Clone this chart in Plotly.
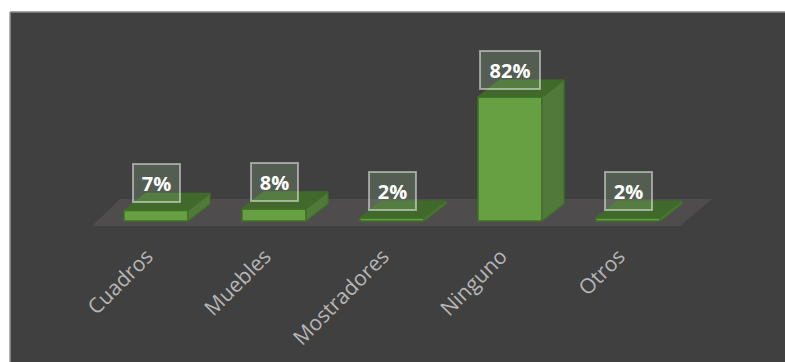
import plotly.graph_objects as go

categories = ["Cuadros", "Muebles", "Mostradores", "Ninguno", "Otros"]
values = [7, 8, 2, 82, 2]
labels = ["7%", "8%", "2%", "82%", "2%"]

# Figure size and plot-area placement, in pixels
WIDTH, HEIGHT = 785, 362
LEFT, TOP = 10, 12
X_ZERO_PX, X_STEP_PX = 156, 118   # centre of the first category, spacing between categories
Y_ZERO_PX, Y_UNIT_PX = 221, 1.512 # baseline, pixels per percentage point

# Pseudo-3D extrusion of each column
BAR_WIDTH = 64 / X_STEP_PX
DEPTH_X = 22 / X_STEP_PX
DEPTH_Y = 17 / Y_UNIT_PX

BACKGROUND = "#404040"
FLOOR = "#4e4c4d"
FRONT = "#66a042"
TOP_FACE = "#41692b"
SIDE_FACE = "#50793a"
EDGE = "#3f6f27"

x_range = [(LEFT - X_ZERO_PX) / X_STEP_PX, (WIDTH - X_ZERO_PX) / X_STEP_PX]
y_range = [(Y_ZERO_PX - HEIGHT) / Y_UNIT_PX, (Y_ZERO_PX - TOP) / Y_UNIT_PX]
positions = list(range(len(categories)))

fig = go.Figure()

fig.add_trace(go.Bar(
    x=positions, y=values, width=BAR_WIDTH,
    marker=dict(color=FRONT, line=dict(color=EDGE, width=1.5)),
    hoverinfo="skip", showlegend=False,
))

# Top and side faces of every column follow from its value
for pos, val in zip(positions, values):
    x0, x1 = pos - BAR_WIDTH / 2, pos + BAR_WIDTH / 2
    fig.add_trace(go.Scatter(
        x=[x1, x1 + DEPTH_X, x1 + DEPTH_X, x1, x1],
        y=[0, DEPTH_Y, val + DEPTH_Y, val, 0],
        mode="lines", fill="toself", fillcolor=SIDE_FACE,
        line=dict(color=EDGE, width=1.2), hoverinfo="skip", showlegend=False,
    ))
    fig.add_trace(go.Scatter(
        x=[x0, x1, x1 + DEPTH_X, x0 + DEPTH_X, x0],
        y=[val, val, val + DEPTH_Y, val + DEPTH_Y, val],
        mode="lines", fill="toself", fillcolor=TOP_FACE,
        line=dict(color=EDGE, width=1.2), hoverinfo="skip", showlegend=False,
    ))

# Boxed value labels sitting over the back edge of each column
annotations = [
    dict(
        x=pos, y=val, text=f"<b>{label}</b>", showarrow=False,
        xref="x", yref="y", xanchor="center", yanchor="middle", yshift=27, xshift=0,
        width=58 if val >= 10 else 45, height=36,
        font=dict(family="Open Sans", size=20, color="white"),
        bgcolor="rgba(150,190,140,0.24)",
        bordercolor="rgba(255,255,255,0.48)", borderwidth=2, borderpad=0,
    )
    for pos, val, label in zip(positions, values, labels)
]

shapes = [
    # Floor plane under the columns
    dict(
        type="path", layer="below", xref="x", yref="y", line=dict(width=0), fillcolor=FLOOR,
        path=(
            f"M {(92 - X_ZERO_PX) / X_STEP_PX} {(Y_ZERO_PX - 226) / Y_UNIT_PX} "
            f"L {(680 - X_ZERO_PX) / X_STEP_PX} {(Y_ZERO_PX - 226) / Y_UNIT_PX} "
            f"L {(712 - X_ZERO_PX) / X_STEP_PX} {(Y_ZERO_PX - 199) / Y_UNIT_PX} "
            f"L {(120 - X_ZERO_PX) / X_STEP_PX} {(Y_ZERO_PX - 199) / Y_UNIT_PX} Z"
        ),
    ),
    # Light frame along the top and left edges of the panel
    dict(type="line", xref="paper", yref="paper", x0=0, x1=1, y0=1, y1=1,
         line=dict(color="#8a8a8a", width=1.5)),
    dict(type="line", xref="paper", yref="paper", x0=0, x1=0, y0=0, y1=1,
         line=dict(color="#9a9a9a", width=1.5)),
]

fig.update_layout(
    width=WIDTH, height=HEIGHT,
    margin=dict(l=LEFT, r=0, t=TOP, b=0, pad=0),
    paper_bgcolor="white", plot_bgcolor=BACKGROUND,
    showlegend=False,
    annotations=annotations, shapes=shapes,
    xaxis=dict(
        range=x_range, tickmode="array", tickvals=positions, ticktext=categories,
        tickangle=-45, showgrid=False, zeroline=False, showline=False, ticks="",
        ticklabelshift=-9,
        tickfont=dict(family="Open Sans", size=21, color="#b6b6b6"),
        anchor="free", position=(HEIGHT - 239) / (HEIGHT - TOP),
    ),
    yaxis=dict(range=y_range, showgrid=False, zeroline=False, showline=False,
               showticklabels=False, ticks=""),
)

fig.write_html("out.html", config=dict(displayModeBar=False))
